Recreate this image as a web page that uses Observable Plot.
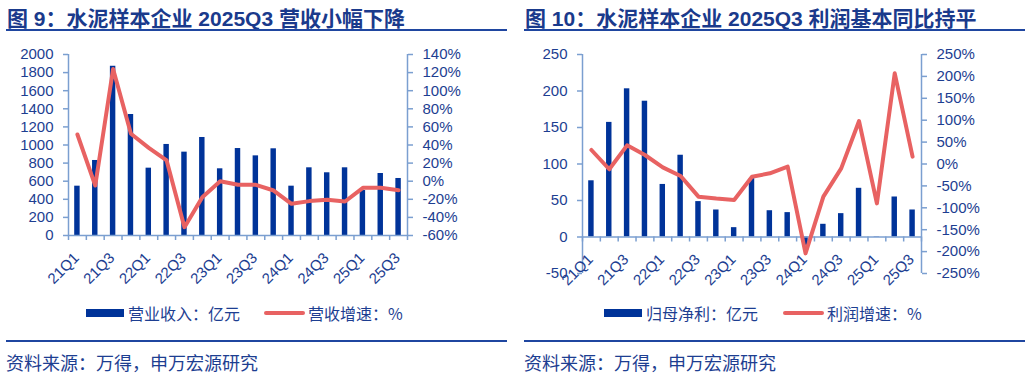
<!DOCTYPE html>
<html><head><meta charset="utf-8">
<script src="https://cdn.jsdelivr.net/npm/d3@7"></script>
<script src="https://cdn.jsdelivr.net/npm/@observablehq/plot@0.6"></script>
<style>
html,body{margin:0;padding:0;background:#fff}
body{width:1030px;height:376px;position:relative;overflow:hidden;font-family:"Liberation Sans",Arial,"Noto Sans CJK SC",sans-serif;color:#1d3e91}
.panel{position:absolute;top:0;width:515px;height:376px}
.title{position:absolute;top:2px;font-size:21px;font-weight:bold;white-space:nowrap;color:#1a3a8c;font-family:"Liberation Sans",Arial,"Noto Sans CJK SC",sans-serif}
.hr{position:absolute;height:2px;background:#1f46a0}
.chart{position:absolute;top:40px;left:0}
.legend{position:absolute;top:303px;font-size:16px;white-space:nowrap;font-family:"Noto Sans CJK SC",sans-serif}
.legend span.sw{position:absolute}
.legend span.tx{position:absolute;top:0;line-height:20px}
.source{position:absolute;top:350px;font-size:18px;white-space:nowrap;font-family:"Noto Sans CJK SC",sans-serif;line-height:24px}
</style>
</head><body>
<div class="panel" id="p1" style="left:0">
  <div class="title" style="left:7px">图 9：水泥样本企业 2025Q3 营收小幅下降</div>
  <div class="hr" style="left:6px;width:501px;top:29px"></div>
  <div class="chart" id="c1"></div>
  <div class="legend" style="left:0">
    <span class="sw" style="left:86px;top:6px;width:38px;height:8px;background:#003399"></span>
    <span class="tx" id="l1a" style="left:128px"></span>
    <span class="sw" style="left:264px;top:8px;width:41px;height:4px;border-radius:2px;background:#e86262"></span>
    <span class="tx" id="l1b" style="left:308px"></span>
  </div>
  <div class="hr" style="left:6px;width:501px;top:340px"></div>
  <div class="source" style="left:6px">资料来源：万得，申万宏源研究</div>
</div>
<div class="panel" id="p2" style="left:515px">
  <div class="title" style="left:10px">图 10：水泥样本企业 2025Q3 利润基本同比持平</div>
  <div class="hr" style="left:9px;width:501px;top:29px"></div>
  <div class="chart" id="c2"></div>
  <div class="legend" style="left:0">
    <span class="sw" style="left:89px;top:6px;width:38px;height:8px;background:#003399"></span>
    <span class="tx" id="l2a" style="left:131px"></span>
    <span class="sw" style="left:268px;top:8px;width:41px;height:4px;border-radius:2px;background:#e86262"></span>
    <span class="tx" id="l2b" style="left:312px"></span>
  </div>
  <div class="hr" style="left:9px;width:501px;top:340px"></div>
  <div class="source" style="left:9px">资料来源：万得，申万宏源研究</div>
</div>
<script>
// ---- data ----
const quarters = ["21Q1","21Q2","21Q3","21Q4","22Q1","22Q2","22Q3","22Q4","23Q1","23Q2","23Q3","23Q4","24Q1","24Q2","24Q3","24Q4","25Q1","25Q2","25Q3"];
const revenue = [545,829,1870,1337,744,1006,921,1083,737,961,880,958,545,748,693,748,497,685,630];
const revenueGrowth = [51.6,-4.8,124,52.4,36.9,22.9,-50.8,-17.7,0,-4,-4,-10.3,-25,-22,-20.6,-22.4,-7.3,-7.3,-9.9];
const profit = [77,157,203,186,72,112,48.5,37,12.8,80,36,33.4,-11.4,17.4,32,66.7,0.5,54.8,37];
const profitGrowth = [32,-12,42.6,20.5,-7.6,-27.4,-74.6,-79,-82,-29,-21.3,-6,-204,-74.6,-10,98,-90,207,16.8];

const revTicks = [0,200,400,600,800,1000,1200,1400,1600,1800,2000];
const revGrowthTicks = [-60,-40,-20,0,20,40,60,80,100,120,140];
const profitTicks = [-50,0,50,100,150,200,250];
const profitGrowthTicks = [-250,-200,-150,-100,-50,0,50,100,150,200,250];

const legend1 = ["营业收入：亿元","营收增速：%"];
const legend2 = ["归母净利：亿元","利润增速：%"];

document.getElementById("l1a").textContent = legend1[0];
document.getElementById("l1b").textContent = legend1[1];
document.getElementById("l2a").textContent = legend2[0];
document.getElementById("l2b").textContent = legend2[1];

const BAR = "#003399", LINE = "#e86262", AX = "#7b9fd0", TXT = "#1d3e91";

function dual({values, growth, yDomain, yTicks, gTicks, toLeft, fromLeft, marginLeft, marginRight, marginBottom}) {
  const rows = quarters.map((q, i) => ({q, i, v: values[i], g: growth[i]}));
  const labelRows = rows.filter(d => d.i % 2 === 0);
  return Plot.plot({
    width: 515, height: 255,
    marginLeft, marginRight, marginTop: 14, marginBottom,
    style: {fontFamily: "Liberation Sans, Arial, sans-serif", fontSize: "15px", color: TXT, background: "transparent", overflow: "visible"},
    x: {domain: [0, quarters.length], axis: null},
    y: {domain: yDomain, axis: null},
    marks: [
      Plot.rectY(rows, {x1: d => d.i, x2: d => d.i + 1, y1: 0, y2: "v", fill: BAR, insetLeft: 6.2, insetRight: 6.2}),
      Plot.ruleX([0, quarters.length], {stroke: AX, strokeWidth: 1.5}),
      Plot.ruleY([0], {stroke: AX, strokeWidth: 1.5}),
      Plot.ruleX(d3.range(quarters.length + 1), {y1: 0, y2: 0, insetBottom: -5, stroke: AX, strokeWidth: 1.5}),
      Plot.axisY(yTicks, {anchor: "left", label: null, tickSize: 5, tickPadding: 10, stroke: AX, strokeWidth: 1.5, fill: TXT, tickFormat: d => String(d)}),
      Plot.axisY(gTicks.map(toLeft), {anchor: "right", label: null, tickSize: 5, tickPadding: 10, stroke: AX, strokeWidth: 1.5, fill: TXT, tickFormat: d => Math.round(fromLeft(d)) + "%"}),
      Plot.text(labelRows, {x: d => d.i + 0.5, y: 0, text: "q", rotate: -45, textAnchor: "end", dx: -1, dy: 20, fill: TXT, fontSize: 15}),
      Plot.line(rows, {x: d => d.i + 0.5, y: d => toLeft(d.g), stroke: LINE, strokeWidth: 4, strokeLinejoin: "round"})
    ]
  });
}

document.getElementById("c1").appendChild(dual({
  values: revenue, growth: revenueGrowth, yDomain: [0, 2000], yTicks: revTicks, gTicks: revGrowthTicks,
  toLeft: p => (p + 60) * 10, fromLeft: v => v / 10 - 60,
  marginLeft: 68, marginRight: 108, marginBottom: 60
}));
document.getElementById("c2").appendChild(dual({
  values: profit, growth: profitGrowth, yDomain: [-50, 250], yTicks: profitTicks, gTicks: profitGrowthTicks,
  toLeft: p => 0.6 * p + 100, fromLeft: v => (v - 100) / 0.6,
  marginLeft: 67, marginRight: 109, marginBottom: 22
}));
</script>
</body></html>
